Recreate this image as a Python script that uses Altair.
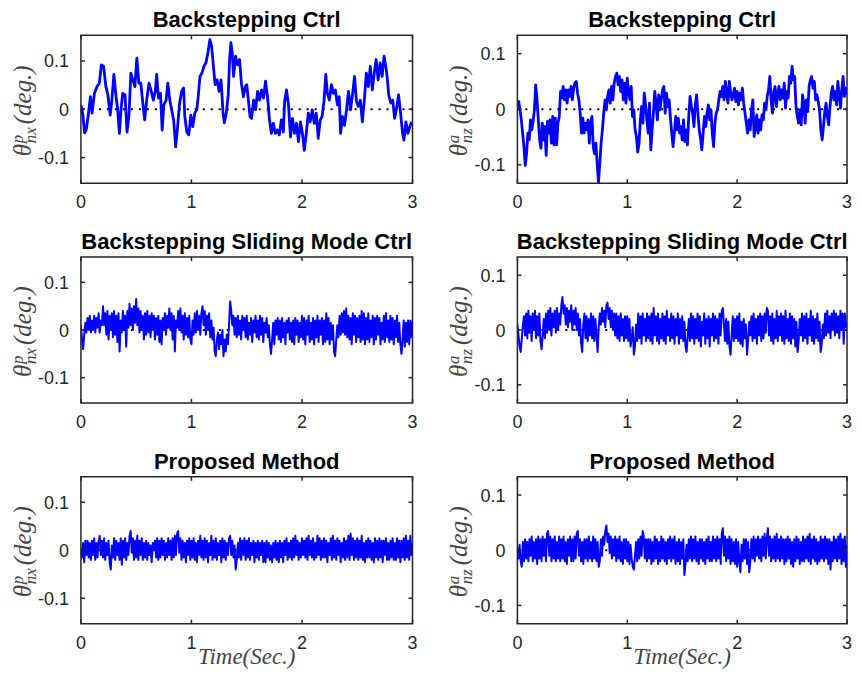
import altair as alt
import numpy as np
import pandas as pd

# ---------------- data ----------------
X_TICKS = [0, 1, 2, 3]
X_LABELS = ["0", "1", "2", "3"]
Y_TICKS = [-0.1, 0.0, 0.1]
Y_LABELS = ["-0.1", "0", "0.1"]

TITLES = ["Backstepping Ctrl", "Backstepping Ctrl",
          "Backstepping Sliding Mode Ctrl", "Backstepping Sliding Mode Ctrl",
          "Proposed Method", "Proposed Method"]
X_TITLE = "Time(Sec.)"

# top-left: theta^p_nx, backstepping
T_TL = [0.000, 0.018, 0.033, 0.048, 0.065, 0.086, 0.101, 0.122, 0.146, 0.167,
        0.185, 0.205, 0.226, 0.244, 0.265, 0.280, 0.298, 0.318, 0.333, 0.348,
        0.363, 0.378, 0.399, 0.417, 0.435, 0.452, 0.470, 0.488, 0.506, 0.524,
        0.542, 0.560, 0.577, 0.595, 0.616, 0.637, 0.655, 0.673, 0.685, 0.702,
        0.720, 0.735, 0.750, 0.771, 0.786, 0.804, 0.821, 0.839, 0.857, 0.875,
        0.893, 0.911, 0.929, 0.940, 0.958, 0.976, 0.994, 1.012, 1.030, 1.048,
        1.060, 1.077, 1.095, 1.113, 1.131, 1.149, 1.167, 1.182, 1.196, 1.214,
        1.232, 1.250, 1.268, 1.286, 1.298, 1.315, 1.333, 1.345, 1.357, 1.369,
        1.381, 1.399, 1.417, 1.435, 1.452, 1.470, 1.488,
        1.500, 1.515, 1.530, 1.544, 1.562, 1.580, 1.598, 1.616, 1.634, 1.652,
        1.670, 1.688, 1.705, 1.723, 1.741, 1.759, 1.777, 1.795, 1.813, 1.831,
        1.843, 1.860, 1.878, 1.896, 1.914, 1.932, 1.950, 1.968, 1.986, 2.004,
        2.021, 2.039, 2.057, 2.075, 2.093, 2.111, 2.129, 2.147, 2.165, 2.182,
        2.200, 2.215, 2.230, 2.248, 2.266, 2.284, 2.302, 2.320, 2.337, 2.349,
        2.367, 2.385, 2.403, 2.421, 2.439, 2.457, 2.475, 2.493, 2.510, 2.528,
        2.546, 2.564, 2.582, 2.600, 2.618, 2.636, 2.654, 2.671, 2.689, 2.707,
        2.725, 2.743, 2.761, 2.773, 2.785, 2.803, 2.821, 2.838, 2.856, 2.874,
        2.892, 2.910, 2.922, 2.940, 2.958, 2.976, 2.990]
V_TL = [0.009, -0.012, -0.049, -0.043, -0.015, 0.026, -0.008, 0.033, 0.047, 0.054,
        0.092, 0.089, 0.047, 0.030, -0.012, 0.019, 0.072, 0.026, -0.001, -0.050,
        -0.001, 0.033, 0.030, -0.047, -0.012, 0.075, 0.061, 0.047, 0.106, 0.054,
        0.054, 0.013, -0.022, 0.019, 0.054, 0.037, 0.019, 0.037, 0.072, 0.023,
        0.033, -0.043, 0.009, 0.019, 0.054, 0.019, -0.001, -0.022, -0.078, -0.036,
        0.013, 0.037, 0.044, -0.015, -0.047, -0.053, -0.012, -0.036, -0.008, -0.001,
        0.023, 0.068, 0.075, 0.089, 0.096, 0.117, 0.144, 0.131, 0.096, 0.051,
        0.061, 0.037, 0.061, -0.008, -0.028, -0.008, 0.030, 0.103, 0.138, 0.117,
        0.068, 0.110, 0.092, 0.103, 0.054, 0.026, 0.047,
        0.051, 0.019, -0.015, -0.019, 0.019, -0.001, 0.037, 0.019, 0.040, 0.023,
        0.058, 0.026, -0.019, -0.050, -0.029, -0.050, -0.043, -0.053, -0.022, -0.047,
        0.016, 0.040, 0.009, -0.057, -0.019, -0.050, -0.029, -0.067, -0.026, -0.050,
        -0.085, -0.050, -0.008, -0.026, -0.001, -0.029, -0.008, -0.060, -0.022, -0.015,
        0.019, 0.072, 0.033, 0.019, 0.051, 0.033, 0.040, 0.009, 0.026, -0.050,
        -0.015, -0.033, -0.001, 0.037, -0.001, 0.030, 0.068, 0.016, 0.006, 0.019,
        -0.026, 0.019, 0.075, 0.047, 0.089, 0.040, 0.075, 0.103, 0.061, 0.096,
        0.068, 0.110, 0.085, 0.061, 0.030, 0.013, 0.019, -0.019, 0.002, 0.030,
        -0.008, -0.050, -0.064, -0.026, -0.050, -0.036, -0.026]

# top-right: theta^a_nz, backstepping (evenly sampled over 0..3 s)
V_TR = [0.011, 0.014, -0.001, -0.019, -0.043, -0.067, -0.101, -0.080, -0.043, -0.055,
        -0.019, -0.037, -0.022, -0.001, 0.044, 0.017, -0.019, -0.055, -0.070, -0.025,
        -0.055, -0.031, -0.083, -0.022, -0.043, -0.019, -0.061, -0.013, -0.064, -0.016,
        -0.064, -0.025, -0.013, 0.032, 0.020, 0.041, 0.017, 0.035, 0.011, 0.035,
        0.023, 0.041, 0.017, 0.038, 0.047, 0.050, 0.029, 0.017, -0.007, -0.043,
        -0.016, -0.043, -0.025, -0.037, -0.019, -0.061, -0.025, -0.013, -0.067, -0.080,
        -0.061, -0.098, -0.131, -0.098, -0.061, -0.037, -0.007, 0.017, -0.001, 0.023,
        0.035, 0.011, 0.041, 0.017, 0.047, 0.059, 0.065, 0.044, 0.059, 0.032,
        0.053, 0.017, 0.047, 0.011, 0.056, 0.029, 0.017, 0.041, -0.013, -0.001,
        -0.037, -0.049, -0.077, -0.061, -0.019, 0.005, -0.025, 0.029, 0.008, -0.019,
        -0.043, 0.011, -0.073, -0.037, -0.007, 0.032, 0.011, -0.019, 0.026, -0.001,
        0.017, 0.035, 0.041, -0.007, 0.029, 0.005, 0.017, -0.016, -0.043, -0.067,
        -0.043, -0.013, -0.037, -0.016, -0.043,
        -0.031, -0.055, -0.019, -0.058, -0.037, -0.064, -0.013, 0.023, 0.005, -0.007,
        -0.031, 0.008, 0.026, -0.007, -0.037, -0.052, -0.073, -0.043, -0.013, -0.031,
        -0.007, 0.008, -0.019, -0.001, -0.043, -0.067, -0.025, -0.007, -0.001, 0.017,
        0.032, 0.023, 0.041, 0.017, 0.050, 0.029, 0.011, 0.050, 0.032, 0.017,
        0.026, 0.038, 0.014, 0.032, 0.008, 0.029, 0.017, 0.038, 0.011, -0.007,
        -0.025, -0.043, -0.019, -0.037, -0.001, 0.017, -0.049, -0.031, -0.010, -0.043,
        -0.019, -0.037, -0.010, -0.019, 0.011, -0.001, 0.023, 0.035, 0.059, 0.017,
        -0.007, 0.032, 0.041, 0.005, 0.029, 0.041, 0.017, 0.035, 0.020, 0.047,
        0.002, 0.032, 0.020, 0.059, 0.047, 0.077, 0.053, 0.059, 0.005, -0.013,
        -0.025, -0.001, -0.028, 0.026, 0.011, -0.025, 0.017, -0.004, 0.041, 0.053,
        0.059, 0.038, 0.050, 0.017, 0.026, 0.014, -0.001, -0.037, -0.055, -0.031,
        -0.004, 0.011, -0.013, -0.028, 0.005, 0.029, 0.041, 0.017, 0.032, 0.008,
        0.050, 0.026, 0.002, 0.035, 0.059, 0.023, 0.038, 0.026]

# middle-left: theta^p_nx, backstepping sliding mode (every 0.01 s)
V_ML = [0.010, -0.020, -0.040, -0.010, 0.015, -0.005, 0.025, 0.000, 0.030, -0.005,
        0.020, 0.000, 0.030, -0.005, 0.025, 0.005, 0.035, -0.005, 0.020, 0.010,
        0.050, 0.010, 0.035, -0.010, 0.040, -0.020, 0.030, 0.000, 0.035, -0.015,
        0.040, -0.010, 0.030, -0.025, 0.035, -0.045, 0.020, -0.005, 0.040, 0.000,
        0.030, -0.035, 0.040, 0.005, 0.055, 0.010, 0.045, 0.000, 0.050, 0.015,
        0.065, 0.010, 0.045, -0.005, 0.040, 0.000, 0.030, -0.020, 0.035, -0.010,
        0.040, -0.005, 0.030, -0.015, 0.035, 0.000, 0.030, -0.020, 0.025, -0.010,
        0.030, -0.025, 0.020, -0.030, 0.025, 0.000, 0.035, -0.010, 0.030, 0.005,
        0.045, 0.000, 0.035, -0.020, 0.030, -0.045, 0.020, 0.005, 0.040, 0.000,
        0.045, -0.005, 0.030, -0.020, 0.035, -0.010, 0.025, -0.015, 0.030, -0.020,
        -0.030, 0.020, -0.010, 0.035, -0.005, 0.040, 0.000, 0.030, -0.010, 0.035,
        0.050, 0.010, 0.040, -0.010, 0.030, 0.000, 0.035, -0.015, 0.020, -0.020,
        0.005, -0.045, -0.055, -0.020, -0.005, -0.040, -0.010, -0.030, 0.000, -0.055,
        -0.020, -0.045, -0.010, -0.030, 0.010, 0.060, 0.040, 0.010, 0.030, -0.010,
        0.025, -0.015, 0.030, -0.010, 0.020, -0.020, 0.030, 0.000, 0.025, -0.015,
        0.030, -0.020, 0.015, -0.010, 0.025, -0.025, 0.020, -0.005, 0.030, -0.015,
        0.020, -0.020, 0.030, -0.010, 0.025, -0.025, 0.015, -0.005, 0.025, -0.015,
        0.010, -0.030, -0.050, -0.020, 0.015, -0.030, 0.020, -0.010, 0.025, -0.020,
        0.020, -0.025, 0.025, -0.015, 0.015, -0.030, 0.020, -0.005, 0.025, -0.020,
        0.015, -0.025, 0.020, -0.030, 0.025, -0.010, 0.020, -0.025, 0.015, -0.015,
        0.030, -0.020, 0.025, -0.030, 0.020, -0.010, 0.030, -0.025, 0.015, -0.020,
        0.025, -0.030, 0.020, -0.015, 0.030, -0.025, 0.020, -0.010, 0.025, -0.030,
        0.020, -0.025, 0.035, -0.020, 0.025, -0.030, 0.015, -0.020, 0.010, -0.045,
        -0.055, -0.020, 0.010, -0.015, 0.030, -0.010, 0.035, -0.005, 0.040, -0.010,
        0.045, -0.015, 0.030, -0.020, 0.025, -0.030, 0.035, -0.010, 0.030, -0.025,
        0.025, -0.015, 0.030, -0.025, 0.040, -0.020, 0.035, -0.030, 0.025, -0.020,
        0.035, -0.025, 0.020, -0.015, 0.030, -0.030, 0.025, -0.020, 0.030, -0.010,
        0.025, -0.030, 0.015, -0.020, 0.030, -0.025, 0.035, -0.015, 0.020, -0.025,
        0.030, -0.020, 0.025, -0.030, 0.020, -0.015, 0.030, -0.025, 0.015, -0.030,
        -0.050, -0.020, 0.020, -0.035, 0.015, -0.025, 0.020, -0.030, 0.020, -0.015,
        0.020]

# middle-right: theta^a_nz, backstepping sliding mode
V_MR = [0.010, -0.010, -0.030, -0.040, -0.015, 0.010, 0.025, -0.010, 0.030, -0.015,
        0.035, -0.005, 0.025, -0.020, 0.030, 0.000, 0.035, -0.015, 0.025, -0.010,
        0.030, -0.020, -0.035, -0.010, 0.020, -0.015, 0.030, -0.005, 0.035, 0.000,
        0.040, -0.010, 0.030, 0.005, 0.035, -0.005, 0.040, 0.000, 0.030, 0.010,
        0.045, 0.060, 0.030, 0.045, 0.010, 0.040, 0.005, 0.035, 0.015, 0.045,
        0.000, 0.035, 0.010, 0.040, 0.000, 0.030, -0.010, 0.020, -0.025, -0.040,
        0.010, 0.030, -0.015, 0.025, -0.020, 0.020, -0.010, 0.030, -0.015, 0.025,
        -0.020, 0.020, -0.010, -0.040, 0.005, 0.030, 0.010, 0.040, 0.015, 0.035,
        0.005, 0.045, 0.050, 0.020, 0.040, 0.005, 0.035, 0.000, 0.030, -0.010,
        0.030, -0.015, 0.025, -0.020, 0.030, -0.010, 0.020, -0.020, 0.025, -0.015,
        0.025, -0.020, 0.020, -0.030, -0.015, 0.005, -0.045, -0.030, 0.010, -0.020,
        0.030, -0.015, 0.025, -0.025, 0.030, -0.010, 0.020, -0.020, 0.030, -0.015,
        0.025, -0.020, 0.030, -0.025, 0.040, -0.010, 0.025, -0.020, 0.030, -0.025,
        0.020, -0.015, 0.030, -0.020, 0.025, -0.025, 0.035, -0.010, 0.020, -0.020,
        0.030, -0.015, 0.025, -0.025, 0.020, -0.010, 0.030, -0.025, 0.020, -0.015,
        0.025, -0.020, 0.015, -0.030, -0.040, -0.010, 0.020, -0.020, 0.030, -0.015,
        0.025, -0.025, 0.020, -0.015, 0.030, -0.020, 0.025, -0.030, 0.015, -0.010,
        0.030, -0.025, 0.020, -0.015, 0.025, -0.030, 0.020, -0.010, 0.030, -0.020,
        0.025, -0.015, 0.020, -0.025, 0.030, -0.010, 0.035, 0.040, 0.010, -0.020,
        0.020, -0.025, 0.015, -0.030, -0.045, -0.010, 0.025, -0.020, 0.020, -0.015,
        0.025, -0.020, 0.030, -0.025, 0.015, -0.030, 0.020, -0.015, 0.010, -0.045,
        -0.020, 0.015, -0.010, 0.025, -0.020, 0.030, -0.015, 0.020, -0.025, 0.025,
        -0.010, 0.030, -0.020, 0.025, -0.015, 0.030, -0.005, 0.040, 0.035, -0.010,
        0.025, -0.020, 0.030, -0.025, 0.020, -0.015, 0.035, -0.020, 0.025, -0.010,
        0.030, -0.020, 0.025, -0.025, 0.035, -0.015, 0.020, -0.020, 0.030, -0.025,
        0.025, -0.015, 0.020, -0.030, 0.015, -0.040, -0.020, 0.020, -0.010, 0.030,
        -0.020, 0.025, -0.015, 0.030, -0.025, 0.020, -0.010, 0.035, -0.020, 0.025,
        -0.025, 0.020, -0.015, 0.030, -0.020, 0.015, -0.040, -0.025, 0.010, -0.015,
        0.030, -0.010, 0.035, -0.005, 0.025, -0.015, 0.030, 0.000, 0.035, -0.010,
        0.030, -0.005, 0.025, -0.015, 0.035, 0.000, 0.030, -0.025, 0.030, 0.005,
        0.015]

# bottom-left: theta^p_nx, proposed method
V_BL = [0.005, -0.015, 0.015, -0.025, 0.020, -0.010, 0.020, -0.015, 0.015, -0.020,
        0.020, -0.010, 0.025, -0.020, 0.015, -0.015, 0.020, 0.030, -0.010, 0.020,
        -0.015, 0.025, -0.020, 0.015, -0.010, 0.020, -0.025, -0.040, 0.010, -0.015,
        0.025, -0.020, 0.020, -0.010, 0.015, -0.020, 0.025, -0.030, 0.020, -0.015,
        0.025, -0.020, 0.015, -0.010, 0.030, 0.040, -0.005, 0.025, -0.020, 0.020,
        -0.015, 0.030, -0.020, 0.020, -0.010, 0.025, -0.020, 0.015, -0.015, 0.020,
        -0.020, 0.015, -0.010, 0.010, -0.025, 0.015, 0.000, 0.020, -0.015, 0.025,
        -0.020, 0.020, -0.015, 0.025, -0.010, 0.020, -0.020, 0.015, -0.015, 0.025,
        -0.010, 0.020, -0.020, 0.025, -0.015, 0.030, -0.010, 0.035, 0.040, -0.005,
        0.025, -0.020, 0.020, -0.015, 0.015, -0.025, 0.020, -0.010, 0.025, -0.020,
        0.020, -0.015, 0.025, -0.020, 0.015, -0.025, 0.020, -0.010, 0.030, -0.015,
        0.020, -0.020, 0.025, -0.015, 0.020, -0.025, 0.015, -0.010, 0.030, -0.020,
        0.020, -0.015, 0.025, -0.020, 0.015, -0.010, 0.020, -0.025, 0.025, -0.015,
        0.020, -0.020, 0.015, -0.010, 0.025, 0.030, -0.010, 0.020, -0.015, 0.010,
        -0.040, -0.020, 0.015, -0.015, 0.025, -0.020, 0.020, -0.010, 0.025, -0.020,
        0.020, -0.015, 0.025, -0.020, 0.015, -0.010, 0.020, -0.025, 0.015, -0.015,
        0.020, -0.020, 0.015, -0.010, 0.020, -0.025, 0.015, -0.025, 0.020, -0.015,
        0.015, -0.020, 0.010, -0.025, 0.015, -0.015, 0.020, -0.020, 0.015, -0.025,
        0.020, -0.015, 0.015, -0.025, 0.020, -0.010, 0.025, -0.020, 0.015, -0.015,
        0.020, -0.020, 0.025, -0.015, 0.030, -0.010, 0.020, -0.020, 0.015, -0.015,
        0.025, -0.010, 0.020, -0.015, 0.025, -0.020, 0.030, -0.010, 0.020, -0.015,
        0.025, -0.020, 0.015, -0.015, 0.030, -0.010, 0.025, -0.020, 0.020, -0.015,
        0.025, -0.015, 0.020, -0.025, 0.015, -0.010, 0.025, -0.020, 0.030, -0.015,
        0.020, -0.020, 0.025, -0.010, 0.020, -0.025, 0.015, -0.015, 0.025, -0.020,
        0.020, -0.015, 0.030, -0.020, 0.035, -0.010, 0.025, -0.020, 0.020, -0.015,
        0.025, -0.020, 0.020, -0.015, 0.030, -0.020, 0.015, -0.025, 0.020, -0.015,
        0.025, -0.015, 0.020, -0.020, 0.015, -0.025, 0.025, -0.015, 0.020, -0.020,
        0.025, -0.015, 0.020, -0.025, 0.020, -0.010, 0.025, -0.020, 0.015, -0.020,
        0.020, -0.015, 0.025, -0.020, 0.015, -0.020, 0.025, -0.015, 0.020, -0.025,
        0.020, -0.015, 0.025, -0.020, 0.030, -0.015, 0.020, -0.020, 0.030, -0.010,
        0.015]

# bottom-right: theta^a_nz, proposed method
V_BR = [0.005, -0.015, 0.010, -0.020, -0.030, 0.015, -0.020, 0.020, -0.015, 0.015,
        -0.020, 0.020, -0.010, 0.025, -0.020, 0.015, -0.015, 0.020, -0.025, 0.025,
        -0.015, 0.020, -0.020, 0.025, -0.010, 0.020, -0.020, 0.030, 0.035, -0.010,
        0.025, -0.020, 0.020, -0.015, 0.025, -0.020, 0.015, -0.015, 0.025, -0.020,
        0.020, -0.015, 0.025, -0.020, 0.015, -0.025, 0.020, -0.010, 0.025, -0.020,
        0.020, -0.020, 0.025, -0.015, 0.030, 0.035, -0.010, 0.020, -0.020, 0.015,
        -0.025, 0.020, -0.015, 0.020, -0.020, 0.025, -0.015, 0.015, -0.020, 0.025,
        -0.015, 0.020, -0.020, 0.015, -0.030, -0.020, 0.020, -0.010, 0.025, 0.010,
        0.035, 0.045, 0.015, 0.030, -0.005, 0.025, -0.015, 0.020, -0.010, 0.025,
        -0.020, 0.020, -0.015, 0.025, -0.020, 0.015, -0.025, 0.020, -0.015, 0.020,
        -0.020, 0.015, -0.025, 0.010, -0.015, -0.030, -0.035, -0.010, 0.015, -0.020,
        0.020, -0.015, 0.025, -0.010, 0.035, 0.025, -0.015, 0.020, -0.020, 0.020,
        -0.015, 0.020, -0.025, 0.015, -0.020, 0.025, -0.015, 0.020, -0.025, 0.015,
        -0.020, 0.025, -0.015, 0.020, -0.020, 0.015, -0.025, 0.020, -0.015, 0.025,
        -0.020, 0.020, -0.015, 0.025, -0.025, 0.015, -0.020, 0.020, -0.025, 0.015,
        -0.015, 0.020, -0.045, -0.025, 0.010, -0.020, 0.020, -0.015, 0.025, -0.020,
        0.020, -0.015, 0.025, -0.020, 0.015, -0.025, 0.020, -0.015, 0.020, -0.020,
        0.015, -0.025, 0.020, -0.015, 0.025, -0.020, 0.015, -0.020, 0.025, -0.015,
        0.020, -0.020, 0.025, -0.015, 0.020, -0.025, 0.030, 0.040, -0.010, 0.025,
        -0.020, 0.020, -0.015, 0.025, -0.025, 0.020, -0.020, 0.015, -0.025, 0.020,
        -0.030, 0.015, -0.020, -0.040, 0.010, -0.020, 0.020, -0.015, 0.020, -0.025,
        0.015, -0.040, -0.020, 0.020, -0.015, 0.025, -0.020, 0.020, -0.010, 0.025,
        -0.015, 0.020, -0.020, 0.025, -0.010, 0.030, -0.015, 0.020, 0.040, -0.010,
        0.025, -0.020, 0.020, -0.015, 0.025, -0.020, 0.030, -0.015, 0.020, -0.020,
        0.025, -0.015, 0.020, -0.025, 0.020, -0.020, 0.025, -0.015, 0.020, -0.025,
        0.015, -0.030, 0.020, -0.020, 0.025, -0.015, 0.020, -0.025, 0.015, -0.020,
        0.025, -0.020, 0.020, -0.015, 0.025, -0.020, 0.030, -0.025, 0.020, -0.015,
        0.025, -0.020, 0.020, -0.025, 0.015, -0.020, 0.025, -0.015, 0.020, -0.020,
        0.025, -0.015, 0.020, -0.025, 0.020, -0.035, 0.015, -0.020, 0.025, -0.015,
        0.020, -0.020, 0.025, -0.015, 0.030, -0.025, 0.020, -0.020, 0.025, -0.030,
        0.010]

T_TR = np.linspace(0, 3, len(V_TR))
T_GRID = np.linspace(0, 3, len(V_ML))

Y_DOM_P = [-0.153, 0.153]
Y_DOM_A = [-0.133, 0.133]

# ---------------- styling ----------------
AX = "#262626"
LBL = "#444444"
SERIF = "Liberation Serif"
SANS = "Liberation Sans"


def panel(t, v, title, ydom, sup, sub, w, h, lw, xtitle=None):
    xs = alt.Scale(domain=[0, 3], nice=False, zero=False)
    ys = alt.Scale(domain=ydom, nice=False, zero=False)
    df = pd.DataFrame({"t": list(t), "v": list(v)})
    one = pd.DataFrame({"a": [0]})

    zero = alt.Chart(pd.DataFrame({"v": [0.0]})).mark_rule(
        color="black", strokeDash=[2, 6], strokeWidth=2
    ).encode(y=alt.Y("v:Q", scale=ys, axis=None))

    line = alt.Chart(df).mark_line(
        color="#0000ff", strokeWidth=lw, clip=True, strokeJoin="round"
    ).encode(
        x=alt.X("t:Q", scale=xs, axis=None),
        y=alt.Y("v:Q", scale=ys, axis=None),
    )

    xt = pd.DataFrame({"t": X_TICKS, "lab": X_LABELS})
    yt = pd.DataFrame({"v": Y_TICKS, "lab": Y_LABELS})
    tk = dict(color=AX, strokeWidth=1.5)
    tick_b = alt.Chart(xt).mark_rule(**tk).encode(
        x=alt.X("t:Q", scale=xs, axis=None), y=alt.value(h), y2=alt.value(h - 4))
    tick_t = alt.Chart(xt).mark_rule(**tk).encode(
        x=alt.X("t:Q", scale=xs, axis=None), y=alt.value(0), y2=alt.value(4))
    tick_l = alt.Chart(yt).mark_rule(**tk).encode(
        y=alt.Y("v:Q", scale=ys, axis=None), x=alt.value(0), x2=alt.value(4))
    tick_r = alt.Chart(yt).mark_rule(**tk).encode(
        y=alt.Y("v:Q", scale=ys, axis=None), x=alt.value(w - 4), x2=alt.value(w))

    xlab = alt.Chart(xt).mark_text(
        font=SANS, fontSize=18, color=AX, align="center", baseline="alphabetic"
    ).encode(x=alt.X("t:Q", scale=xs, axis=None), y=alt.value(h + 25), text="lab:N")
    ylab = alt.Chart(yt).mark_text(
        font=SANS, fontSize=18, color=AX, align="right", baseline="alphabetic", dy=6.5
    ).encode(y=alt.Y("v:Q", scale=ys, axis=None), x=alt.value(-12), text="lab:N")

    ttl = alt.Chart(one).mark_text(
        text=title, font=SANS, fontSize=22, fontWeight="bold", color="#000000",
        align="center", baseline="alphabetic"
    ).encode(x=alt.value(w / 2), y=alt.value(-8))

    def piece(s, size, dx, dy):
        return alt.Chart(one).mark_text(
            text=s, angle=270, align="left", baseline="alphabetic",
            font=SERIF, fontStyle="italic", fontSize=size, color=LBL
        ).encode(x=alt.value(dx), y=alt.value(h / 2 + dy))

    ytitle = [piece("θ", 25, -50, 47), piece(sup, 17, -58, 34),
              piece(sub, 17, -45, 34), piece("(deg.)", 25, -50, 15)]

    layers = [zero, line, tick_b, tick_t, tick_l, tick_r, xlab, ylab, ttl] + ytitle
    if xtitle:
        layers.append(alt.Chart(one).mark_text(
            text=xtitle, font=SERIF, fontStyle="italic", fontSize=23, color=LBL,
            align="center", baseline="alphabetic"
        ).encode(x=alt.value(w / 2), y=alt.value(h + 40)))

    return alt.layer(*layers).properties(width=w, height=h)


W_L, W_R = 332, 330
panels = [
    panel(T_TL, V_TL, TITLES[0], Y_DOM_P, "p", "nx", W_L, 148, 2.8),
    panel(T_TR, V_TR, TITLES[1], Y_DOM_A, "a", "nz", W_R, 148, 2.8),
    panel(T_GRID, V_ML, TITLES[2], Y_DOM_P, "p", "nx", W_L, 146, 2.0),
    panel(T_GRID, V_MR, TITLES[3], Y_DOM_A, "a", "nz", W_R, 146, 2.0),
    panel(T_GRID, V_BL, TITLES[4], Y_DOM_P, "p", "nx", W_L, 147, 2.0, X_TITLE),
    panel(T_GRID, V_BR, TITLES[5], Y_DOM_A, "a", "nz", W_R, 147, 2.0, X_TITLE),
]

chart = alt.concat(
    *panels, columns=2, spacing={"row": 74, "column": 105}, bounds="flush"
).properties(
    padding={"left": 0, "top": 0, "right": 0, "bottom": 0},
).configure_view(
    stroke=AX, strokeWidth=1.5
)

chart.save("out.html", embed_options={"renderer": "svg", "actions": False})
